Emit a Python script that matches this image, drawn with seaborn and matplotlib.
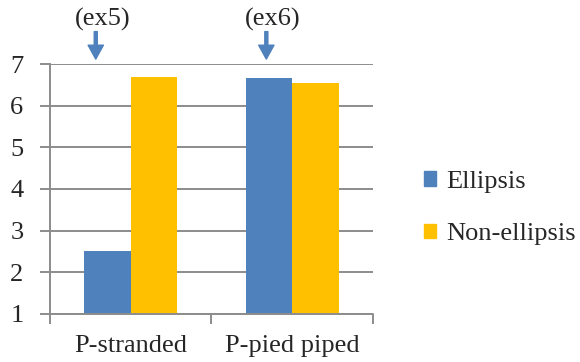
"""Ellipsis vs non-ellipsis ratings by pied-piping condition."""
import matplotlib
matplotlib.use("Agg")
import matplotlib.pyplot as plt
import pandas as pd
import seaborn as sns

categories = ["P-stranded", "P-pied piped"]
series = ["Ellipsis", "Non-ellipsis"]
ellipsis = [2.51, 6.66]
non_ellipsis = [6.69, 6.55]
arrow_labels = ["(ex5)", "(ex6)"]

colors = {"Ellipsis": "#4F81BD", "Non-ellipsis": "#FFC000"}
grid_color = "#8C8C8C"
FS = 19

df = pd.DataFrame({
    "condition": categories * 2,
    "type": [series[0]] * 2 + [series[1]] * 2,
    "rating": ellipsis + non_ellipsis,
})

sns.set_style("white")
plt.rcParams["font.family"] = ["Liberation Serif", "DejaVu Serif"]
plt.rcParams["font.size"] = FS

fig = plt.figure(figsize=(5.8, 3.62), dpi=100)
ax = fig.add_axes([0.086, 0.133, 0.557, 0.690])

sns.barplot(data=df, x="condition", y="rating", hue="type", hue_order=series,
            order=categories, palette=colors, width=0.575, gap=0,
            saturation=1, ax=ax, legend=False)

# bars start at 1, not 0
for bar in ax.patches:
    h = bar.get_height()
    bar.set_y(1)
    bar.set_height(h - 1)
    bar.set_linewidth(0)

ax.set_ylim(1, 7)
ax.set_xlim(-0.5, 1.5)
ax.set_yticks(range(1, 8))
ax.yaxis.grid(True, color=grid_color, linewidth=1.4)
ax.set_axisbelow(True)
ax.set_xlabel("")
ax.set_ylabel("")
for s in ["top", "right", "bottom"]:
    ax.spines[s].set_visible(False)
ax.spines["left"].set_color(grid_color)
ax.spines["left"].set_linewidth(1.4)

# y ticks as outward stubs, x ticks at category boundaries
ax.tick_params(axis="y", length=7, width=1.4, color=grid_color, pad=12,
               left=True, labelsize=FS)
ax.set_xticks([-0.5, 0.5, 1.5])
ax.set_xticklabels([])
ax.tick_params(axis="x", length=7, width=1.4, color=grid_color, bottom=True)
ax.axhline(1, color=grid_color, linewidth=1.4, clip_on=False, zorder=3)
for i, cat in enumerate(categories):
    ax.text(i, -0.085, cat, transform=ax.get_xaxis_transform(),
            ha="center", va="top", fontsize=FS)

# arrows pointing at the examples
for x, lab in zip([-0.216, 0.84], arrow_labels):
    ax.annotate("", xy=(x, 1.02), xytext=(x, 1.13),
                xycoords=("data", "axes fraction"),
                textcoords=("data", "axes fraction"),
                arrowprops=dict(facecolor="#4F81BD", edgecolor="#4F81BD",
                                width=2.2, headwidth=11, headlength=10),
                annotation_clip=False)
    ax.text(x + 0.04, 1.18, lab, transform=ax.get_xaxis_transform(),
            ha="center", va="center", fontsize=FS)

handles = [plt.Rectangle((0, 0), 1, 1, color=colors[s]) for s in series]
fig.legend(handles, series, loc="center left", bbox_to_anchor=(0.69, 0.425),
           frameon=False, handlelength=0.45, handleheight=0.45,
           handletextpad=0.4, labelspacing=1.15, fontsize=FS)

fig.savefig("out.png", dpi=100)
